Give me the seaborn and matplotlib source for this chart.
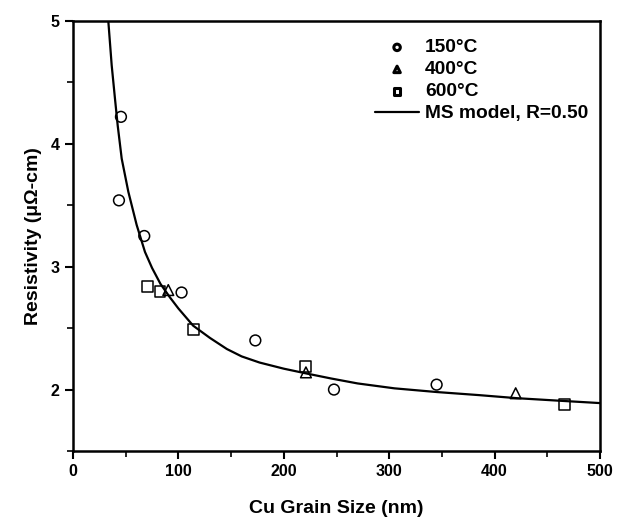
import matplotlib
matplotlib.use("Agg")
import matplotlib.pyplot as plt
import seaborn as sns
from matplotlib.ticker import MultipleLocator

sns.set_style("ticks")
plt.rcParams['font.family'] = ['Liberation Sans', 'DejaVu Sans']
plt.rcParams['font.weight'] = 'bold'
plt.rcParams.update({'text.color': 'black', 'axes.labelcolor': 'black',
                     'xtick.color': 'black', 'ytick.color': 'black',
                     'axes.edgecolor': 'black'})

# Data
x150 = [45.5, 43.6, 67.6, 103, 173, 247.6, 345]
y150 = [4.22, 3.54, 3.25, 2.79, 2.40, 2.00, 2.04]
x400 = [90.4, 221, 420]
y400 = [2.81, 2.14, 1.97]
x600 = [70.5, 82.5, 114, 220.8, 466]
y600 = [2.84, 2.80, 2.49, 2.19, 1.88]
xmodel = [33.5, 36.7, 39.8, 42.4, 46.2, 52.5, 60.4, 68.3, 75, 83, 92, 100, 114,
          130, 146, 160, 177, 200, 222, 245, 270, 305, 345, 385, 421, 460, 500]
ymodel = [5.0, 4.64, 4.37, 4.15, 3.88, 3.61, 3.34, 3.12, 2.99, 2.86, 2.75, 2.66, 2.52,
          2.42, 2.33, 2.27, 2.22, 2.17, 2.13, 2.09, 2.05, 2.01, 1.98, 1.955, 1.93, 1.91, 1.89]

fig = plt.figure(figsize=(6.26, 5.24), dpi=100)
ax = fig.add_axes([73/626, 1-451/524, 527/626, 430/524])

mk = dict(s=60, facecolor='none', edgecolor='black', linewidth=1.1)
sns.scatterplot(x=x150, y=y150, marker='o', label='150°C', ax=ax, **mk)
sns.scatterplot(x=x400, y=y400, marker='^', label='400°C', ax=ax, **mk)
sns.scatterplot(x=x600, y=y600, marker='s', label='600°C', ax=ax, **mk)
sns.lineplot(x=xmodel, y=ymodel, sort=False, color='black', linewidth=1.6,
             label='MS model, R=0.50', ax=ax)

ax.set_xlim(0, 500)
ax.set_ylim(1.5, 5)
ax.xaxis.set_major_locator(MultipleLocator(100))
ax.xaxis.set_minor_locator(MultipleLocator(50))
ax.yaxis.set_major_locator(MultipleLocator(1))
ax.yaxis.set_minor_locator(MultipleLocator(0.5))
ax.tick_params(which='major', direction='out', length=6, width=1.5, labelsize=11.5,
               colors='black')
ax.tick_params(which='minor', direction='out', length=4, width=1.2, colors='black')
for sp in ax.spines.values():
    sp.set_linewidth(1.8)
    sp.set_color('black')
    sp.set_visible(True)
for lab in ax.get_xticklabels() + ax.get_yticklabels():
    lab.set_fontweight('bold')

ax.set_xlabel('Cu Grain Size (nm)', fontsize=14, fontweight='bold', labelpad=15,
              color='black')
ax.set_ylabel('Resistivity (μΩ-cm)', fontsize=14, fontweight='bold', labelpad=6,
              color='black')

leg = ax.legend(loc='upper right', frameon=False, fontsize=13.8, markerscale=0.6,
                handlelength=2.3, handletextpad=0.3, labelspacing=0.24,
                borderaxespad=0.0, bbox_to_anchor=(0.992, 0.976))
for t in leg.get_texts():
    t.set_fontweight('bold')
    t.set_color('black')
for h in leg.legend_handles[:3]:
    h.set_linewidth(2.2)

fig.savefig('out.png', dpi=100)
